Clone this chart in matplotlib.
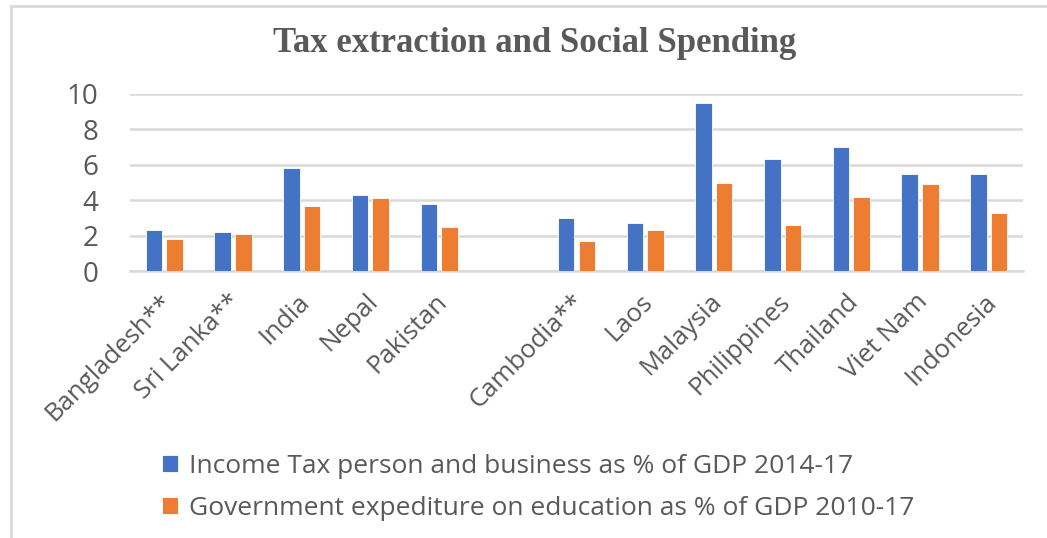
import matplotlib
matplotlib.use("Agg")
import matplotlib.pyplot as plt
import matplotlib.transforms as mtransforms
from matplotlib.lines import Line2D
import numpy as np

countries = ["Bangladesh**", "Sri Lanka**", "India", "Nepal", "Pakistan", "",
             "Cambodia**", "Laos", "Malaysia", "Philippines", "Thailand",
             "Viet Nam", "Indonesia"]
income_tax = [2.3, 2.2, 5.8, 4.3, 3.8, np.nan,
              3.0, 2.7, 9.5, 6.3, 7.0, 5.5, 5.5]
education = [1.8, 2.1, 3.7, 4.15, 2.5, np.nan,
             1.7, 2.3, 5.0, 2.6, 4.2, 4.9, 3.3]
yticks = [0, 2, 4, 6, 8, 10]

series_labels = ["Income Tax person and business as % of GDP 2014-17",
                 "Government expediture on education as % of GDP 2010-17"]
BLUE = "#4472C4"
ORANGE = "#ED7D31"
GRID = "#D9D9D9"
TEXT = "#595959"

plt.rcParams["font.family"] = ["Open Sans", "DejaVu Sans"]

W, H = 1047, 538
fig = plt.figure(figsize=(W / 100, H / 100), dpi=100)
ax = fig.add_axes([130 / W, 1 - 271 / H, (1023 - 130) / W, (271 - 94) / H])

x = np.arange(len(countries))
bw = 0.24
off = 0.15
ax.bar(x - off, income_tax, bw, color=BLUE, edgecolor="white", linewidth=0.6,
       label=series_labels[0], zorder=3)
ax.bar(x + off, education, bw, color=ORANGE, edgecolor="white", linewidth=0.6,
       label=series_labels[1], zorder=3)

ax.set_xlim(-0.5, len(countries) - 0.5)
ax.set_ylim(0, 10)
ax.set_yticks(yticks)
ax.set_yticklabels([str(v) for v in yticks], fontsize=20, color=TEXT)
ax.set_xticks(x)
ax.set_xticklabels(countries, rotation=45, ha="right", va="top",
                   rotation_mode="anchor", fontsize=18.5, color=TEXT)
ax.tick_params(axis="y", length=0, pad=23)
ax.tick_params(axis="x", length=0, pad=13)
shift = mtransforms.ScaledTranslation(-5 / 100, 0, fig.dpi_scale_trans)
for lbl in ax.get_xticklabels():
    lbl.set_transform(lbl.get_transform() + shift)
ax.grid(axis="y", color=GRID, linewidth=1.8, zorder=0)
for side in ["top", "right", "left"]:
    ax.spines[side].set_visible(False)
ax.spines["bottom"].set_color(GRID)
ax.spines["bottom"].set_linewidth(1.8)
ax.spines["bottom"].set_zorder(1)

fig.text(535 / W, 1 - 43 / H, "Tax extraction and Social Spending",
         ha="center", va="center", fontsize=25, fontweight="bold",
         family="Liberation Serif", color=TEXT)

# chart frame: top and left border
fig.add_artist(Line2D([11 / W, 1.0], [1 - 6 / H, 1 - 6 / H],
                      transform=fig.transFigure, color=GRID, linewidth=2))
fig.add_artist(Line2D([11 / W, 11 / W], [0, 1 - 6 / H],
                      transform=fig.transFigure, color=GRID, linewidth=2))

leg = fig.legend(loc="upper left", bbox_to_anchor=(138 / W, 1 - 430 / H),
                 frameon=False, fontsize=19, handlelength=0.6,
                 handleheight=0.6, handletextpad=0.45, labelspacing=0.66)
for t in leg.get_texts():
    t.set_color(TEXT)

fig.savefig("out.png", dpi=100, facecolor="white")
